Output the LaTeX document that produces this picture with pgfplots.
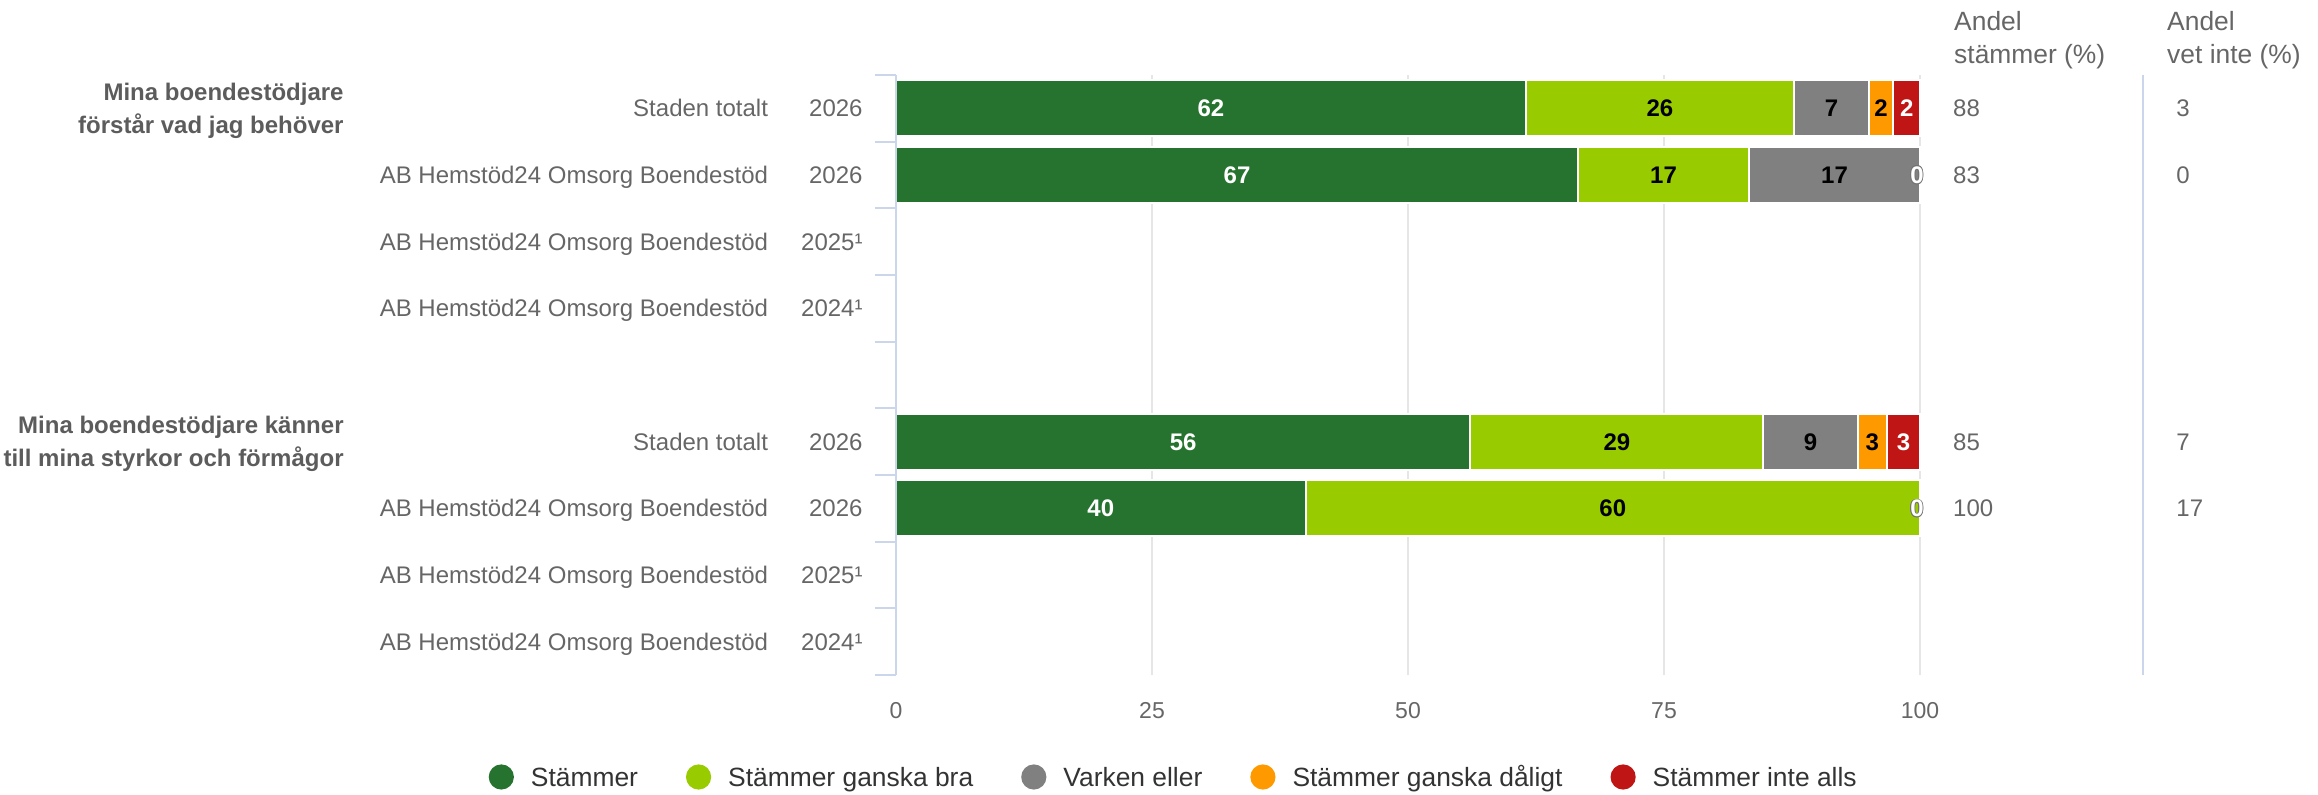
\documentclass[border=0pt]{standalone}
\usepackage{fontspec}
\setmainfont{Liberation Sans}
\usepackage{pgfplots}
\pgfplotsset{compat=1.18}

\definecolor{cStam}{HTML}{267330}
\definecolor{cBra}{HTML}{99CC00}
\definecolor{cVark}{HTML}{808080}
\definecolor{cDal}{HTML}{FF9900}
\definecolor{cInte}{HTML}{BF1515}
\definecolor{cTxt}{HTML}{666666}
\definecolor{cHead}{HTML}{5C5C5C}
\definecolor{cLeg}{HTML}{333333}
\definecolor{cAxis}{HTML}{CCD6EB}
\definecolor{cGrid}{HTML}{E6E6E6}

% white "0" with a thin grey outline (zero-width segments)
\newcommand{\olcopy}[2]{\makebox[0pt][l]{\hspace*{#1}\raisebox{#2}{\textcolor{black!55}{0}}}}
\newcommand{\outzero}{\olcopy{0.45pt}{0pt}\olcopy{-0.45pt}{0pt}\olcopy{0pt}{0.45pt}\olcopy{0pt}{-0.45pt}%
  \olcopy{0.32pt}{0.32pt}\olcopy{-0.32pt}{0.32pt}\olcopy{0.32pt}{-0.32pt}\olcopy{-0.32pt}{-0.32pt}\textcolor{white}{0}}

\pgfplotsset{
  circleg/.style={legend image code/.code={\fill[##1,draw=none] (6.3pt,0pt) circle[radius=6.3pt];}},
  myframe/.style={at={(448pt,60pt)}, anchor=south west,
    scale only axis, width=512pt, height=300pt,
    xmin=0, xmax=100, ymin=-0.5, ymax=8.5, clip=false},
}

\begin{document}
\begin{tikzpicture}
\useasboundingbox (0,0) rectangle (1159pt,397.5pt);
\begin{axis}[
  myframe,
  xbar stacked, bar width=28pt,
  axis line style={draw=none},
  xtick={0,25,50,75,100},
  xticklabels={0,25,50,75,100},
  xmajorgrids, grid style={cGrid, line width=0.9pt},
  ytick={0,1,2,3,5,6,7,8},
  yticklabels={
    {AB Hemstöd24 Omsorg Boendestöd\hbox to 47.3pt{\hfil 2024¹}},
    {AB Hemstöd24 Omsorg Boendestöd\hbox to 47.3pt{\hfil 2025¹}},
    {AB Hemstöd24 Omsorg Boendestöd\hbox to 47.3pt{\hfil 2026}},
    {Staden totalt\hbox to 47.3pt{\hfil 2026}},
    {AB Hemstöd24 Omsorg Boendestöd\hbox to 47.3pt{\hfil 2024¹}},
    {AB Hemstöd24 Omsorg Boendestöd\hbox to 47.3pt{\hfil 2025¹}},
    {AB Hemstöd24 Omsorg Boendestöd\hbox to 47.3pt{\hfil 2026}},
    {Staden totalt\hbox to 47.3pt{\hfil 2026}}},
  ytick pos=left, xtick pos=bottom,
  major tick length=0pt,
  extra y ticks={-0.5,0.5,1.5,2.5,3.5,4.5,5.5,6.5,7.5,8.5},
  extra y tick labels={},
  extra y tick style={major tick length=10.5pt, tick align=outside,
    tick style={cAxis, line width=0.9pt}},
  yticklabel style={font=\fontsize{12}{14}\selectfont, text=cTxt, anchor=east,
    inner sep=0pt, text height=8.6pt, text depth=0pt, xshift=-16.5pt},
  xticklabel style={font=\fontsize{11.5}{13}\selectfont, text=cTxt, anchor=north,
    inner sep=0pt, text height=8.2pt, text depth=0pt, yshift=-13.3pt},
  legend columns=5,
  legend cell align=left,
  legend style={draw=none, fill=none, at={(0.2702,-0.17)}, anchor=center,
    font=\fontsize{13.2}{15}\selectfont, text=cLeg,
    nodes={inner sep=0pt, text height=9.45pt, text depth=0pt},
    /tikz/every odd column/.append style={column sep=8.5pt},
    /tikz/every even column/.append style={column sep=24pt}},
]
% rows: 8,7 = first question; 3,2 = second question
\addplot[circleg, fill=cStam, draw=white, line width=1pt]
  coordinates {(61.5,8) (66.6,7) (56.1,3) (40.0,2)};
\addlegendentry{Stämmer}
\addplot[circleg, fill=cBra, draw=white, line width=1pt]
  coordinates {(26.2,8) (16.7,7) (28.6,3) (60.0,2)};
\addlegendentry{Stämmer ganska bra}
\addplot[circleg, fill=cVark, draw=white, line width=1pt]
  coordinates {(7.3,8) (16.7,7) (9.2,3) (0,2)};
\addlegendentry{Varken eller}
\addplot[circleg, fill=cDal, draw=white, line width=1pt]
  coordinates {(2.4,8) (0,7) (2.9,3) (0,2)};
\addlegendentry{Stämmer ganska dåligt}
\addplot[circleg, fill=cInte, draw=white, line width=1pt]
  coordinates {(2.6,8) (0,7) (3.2,3) (0,2)};
\addlegendentry{Stämmer inte alls}
\end{axis}

% segment labels, at the centre of each segment
\begin{axis}[
  myframe, hide axis,
  point meta=explicit symbolic,
  nodes near coords,
  every node near coord/.append style={anchor=center,
    font=\bfseries\fontsize{12}{14}\selectfont, inner sep=0pt,
    text height=8.6pt, text depth=0pt},
]
\addplot[draw=none, mark=none, every node near coord/.append style={text=white}]
  coordinates {(30.75,8) [62] (33.3,7) [67] (28.05,3) [56] (20.0,2) [40]
               (98.7,8) [2] (98.4,3) [3]};
\addplot[draw=none, mark=none, every node near coord/.append style={text=black}]
  coordinates {(74.6,8) [26] (74.95,7) [17] (70.4,3) [29] (70.0,2) [60]
               (91.35,8) [7] (91.65,7) [17] (89.3,3) [9]
               (96.2,8) [2] (95.35,3) [3]};
\addplot[draw=none, mark=none, nodes near coords={\outzero}]
  coordinates {(99.7,7) [0] (99.7,2) [0]};
\end{axis}

% left axis line and right separator
\draw[cAxis, line width=0.9pt] (448pt,60pt) -- (448pt,360pt);
\draw[cAxis, line width=0.9pt] (1071.6pt,60pt) -- (1071.6pt,360pt);

% question titles
\node[anchor=east, align=right, font=\bfseries\fontsize{12}{16.5}\selectfont,
  text=cHead, inner sep=0pt] at (172pt,342.3pt)
  {Mina boendestödjare\\förstår vad jag behöver};
\node[anchor=east, align=right, font=\bfseries\fontsize{12}{16.5}\selectfont,
  text=cHead, inner sep=0pt] at (172pt,175.7pt)
  {Mina boendestödjare känner\\till mina styrkor och förmågor};

% side columns
\node[anchor=west, align=left, font=\fontsize{13.2}{16.5}\selectfont,
  text=cTxt, inner sep=0pt] at (976.9pt,377.2pt) {Andel\\stämmer (\%)};
\node[anchor=west, align=left, font=\fontsize{13.2}{16.5}\selectfont,
  text=cTxt, inner sep=0pt] at (1083.4pt,377.2pt) {Andel\\vet inte (\%)};
\tikzset{val/.style={anchor=west, font=\fontsize{12}{14}\selectfont,
  text=cTxt, inner sep=0pt, text height=8.6pt, text depth=0pt}}
\node[val] at (976.4pt,343.3pt) {88};
\node[val] at (976.4pt,310pt) {83};
\node[val] at (976.4pt,176.7pt) {85};
\node[val] at (976.4pt,143.3pt) {100};
\node[val] at (1088pt,343.3pt) {3};
\node[val] at (1088pt,310pt) {0};
\node[val] at (1088pt,176.7pt) {7};
\node[val] at (1088pt,143.3pt) {17};
\end{tikzpicture}
\end{document}
